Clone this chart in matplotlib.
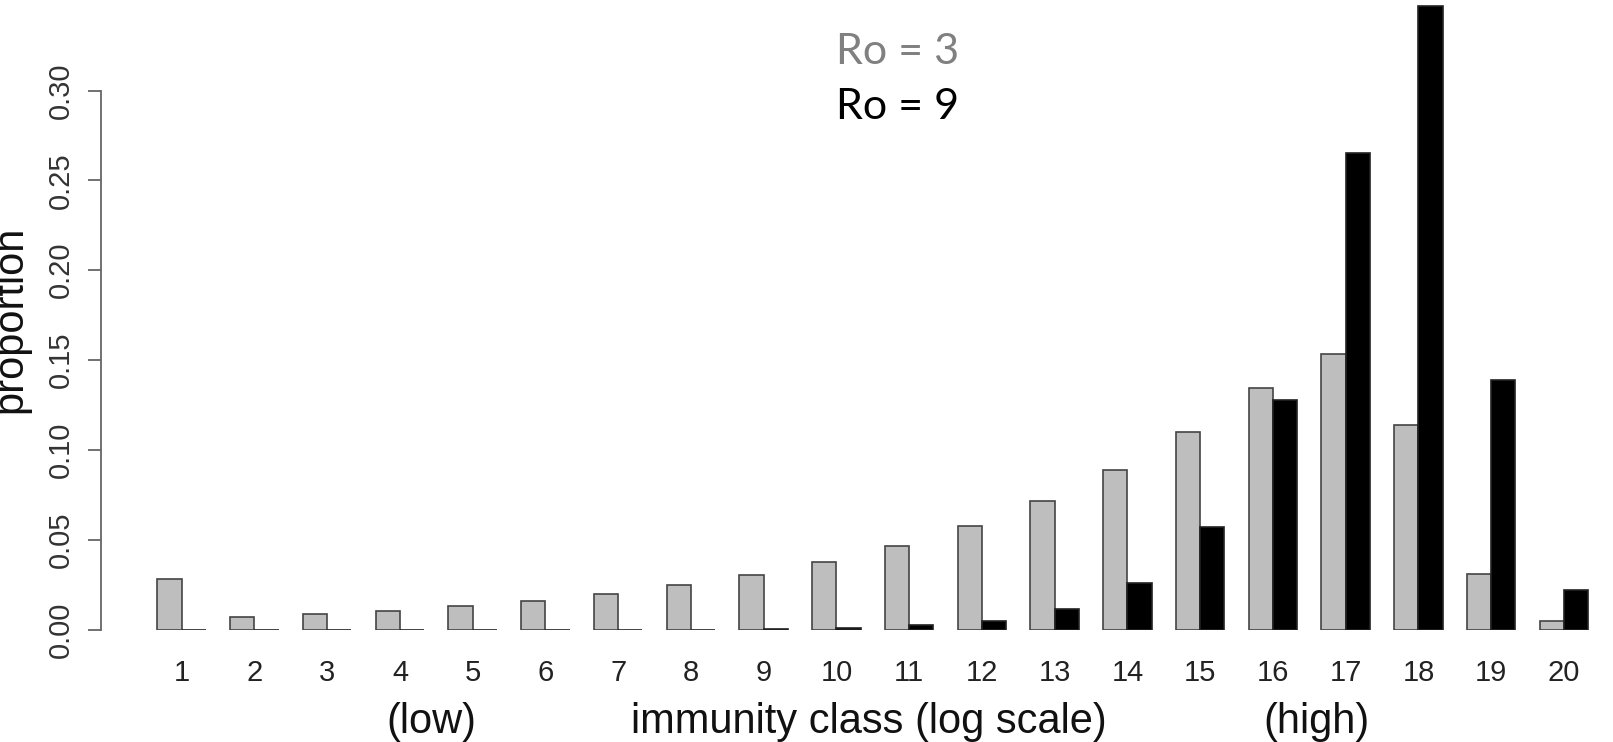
import numpy as np
import matplotlib
matplotlib.use('Agg')
import matplotlib.pyplot as plt
import matplotlib.transforms as mtransforms

# data
classes = [str(i) for i in range(1, 21)]
ro3 = [0.028, 0.0069, 0.0086, 0.0103, 0.0132, 0.016, 0.020, 0.0246, 0.0304, 0.0378,
       0.0464, 0.0578, 0.0716, 0.0888, 0.110, 0.1346, 0.1535, 0.114, 0.031, 0.0046]
ro9 = [0.0, 0.0, 0.0, 0.0, 0.0, 0.0, 0.0, 0.0, 0.0003, 0.001,
       0.0026, 0.005, 0.0115, 0.0258, 0.0573, 0.128, 0.265, 0.347, 0.139, 0.0223]
yticks = [0.00, 0.05, 0.10, 0.15, 0.20, 0.25, 0.30]

W, H = 1613, 742
fig = plt.figure(figsize=(W / 100, H / 100), dpi=100, facecolor='w')
plt.rcParams['font.family'] = ['Liberation Sans', 'DejaVu Sans']

# R barplot layout: each group = 2 bars of width 1 plus 1 unit of space
x0_px, unit_px = 101.0, 24.25
x_lo = -(133.2 - x0_px) / unit_px
x_hi = x_lo + (W - x0_px) / unit_px
y0_px, per_unit = 629.6, 1797.0
ytop = y0_px / per_unit
ax = fig.add_axes([x0_px / W, (H - y0_px) / H, (W - x0_px) / W, y0_px / H])
ax.set_xlim(x_lo, x_hi)
ax.set_ylim(0, ytop)

n = len(classes)
left = np.arange(n) * 3 + 1
ax.bar(left, ro3, width=1, align='edge', color='#bebebe', edgecolor='#444444', lw=1.2)
ax.bar(left + 1, ro9, width=1, align='edge', color='black', edgecolor='#222222', lw=1.2)

for s in ['top', 'right', 'bottom']:
    ax.spines[s].set_visible(False)
ax.spines['left'].set_bounds(0, 0.30)
ax.spines['left'].set_color('#666666')
ax.spines['left'].set_linewidth(1.3)
ax.set_yticks(yticks)
ax.set_yticklabels(['%.2f' % v for v in yticks], rotation=90, va='center',
                   fontsize=21, color='#333333')
ax.tick_params(axis='y', length=9.4, width=1.3, color='#666666', pad=9.2)
ax.set_xticks(left + 1)
ax.set_xticklabels(classes, fontsize=21, color='#222222')
ax.tick_params(axis='x', length=0, pad=21)

# second line under the axis
tr = mtransforms.blended_transform_factory(ax.transData, fig.transFigure)
yb = (H - 733) / H
ax.text(12.3, yb, '(low)', transform=tr, ha='center', va='baseline', fontsize=30, color='#111111')
ax.text(30.35, yb, 'immunity class (log scale)', transform=tr, ha='center', va='baseline',
        fontsize=30, color='#111111')
ax.text(48.8, yb, '(high)', transform=tr, ha='center', va='baseline', fontsize=30, color='#111111')

fig.text(-0.006, (H - 319) / H, 'proportion', rotation=90, ha='left', va='center',
         fontsize=30, color='#111111')

# legend text
fig.text(836 / W, (H - 64) / H, 'Ro = 3', family=['Lato', 'DejaVu Sans'], fontsize=31,
         color='#808080', ha='left', va='baseline')
fig.text(836 / W, (H - 119) / H, 'Ro = 9', family=['Lato', 'DejaVu Sans'], fontsize=31,
         color='black', ha='left', va='baseline')

plt.savefig('out.png', dpi=100)
